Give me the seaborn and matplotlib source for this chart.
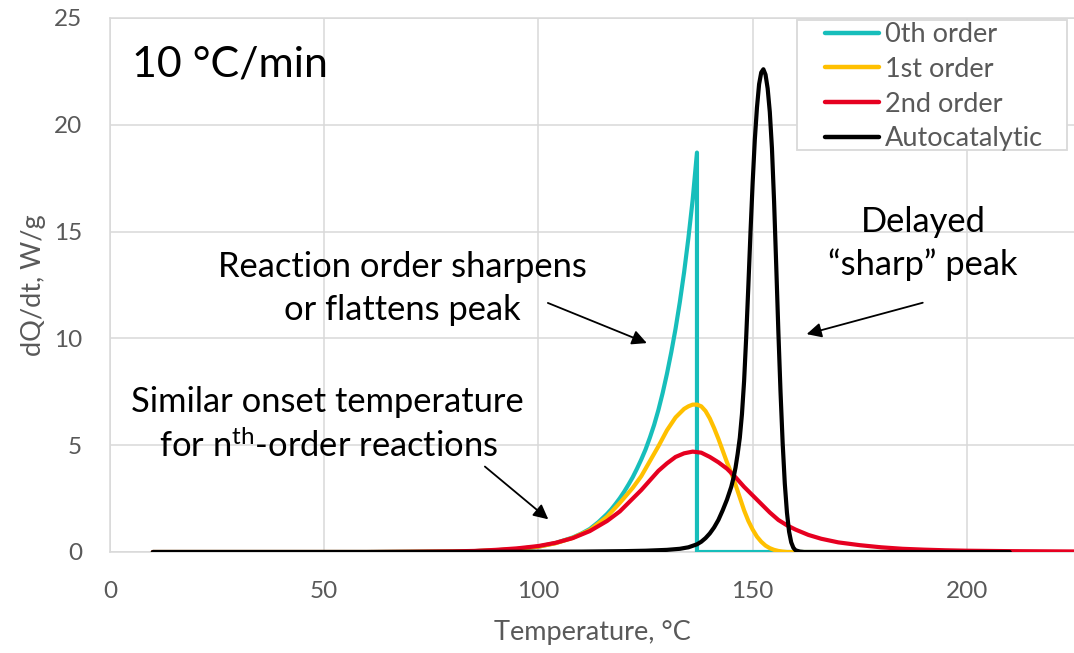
import numpy as np
import pandas as pd
import matplotlib
matplotlib.use("Agg")
import matplotlib.pyplot as plt
from matplotlib.patches import Rectangle
import seaborn as sns

# ---------------- data ----------------
series_names = ["0th order", "1st order", "2nd order", "Autocatalytic"]
series_colors = ["#17BEBB", "#FFC000", "#E60020", "#000000"]

temp_0th = [10, 40, 60, 70, 80, 85, 90, 95, 100, 104, 108, 110, 112, 114, 116,
            117, 118, 119, 120, 121, 122, 123, 124, 125, 126, 127, 128, 129,
            130, 131, 132, 133, 134, 135, 136, 137, 137, 160, 210]
dqdt_0th = [0.0, 0.0, 0.0, 0.01, 0.02, 0.04, 0.08, 0.14, 0.25, 0.42, 0.68, 0.86,
            1.08, 1.4, 1.78, 2.0, 2.25, 2.52, 2.82, 3.15, 3.5, 3.9, 4.33, 4.8,
            5.35, 5.95, 6.65, 7.45, 8.35, 9.35, 10.45, 11.7, 13.1, 14.7, 16.5,
            18.7, 0.0, 0.0, 0.0]

temp_1st = [10, 40, 60, 70, 80, 85, 90, 95, 100, 104, 108, 112, 116, 119, 122,
            124, 126, 128, 130, 132, 134, 135, 136, 137, 138, 139, 140, 141,
            142, 143, 144, 145, 146, 147, 148, 149, 150, 151, 152, 153, 154,
            155, 156, 157, 158, 210]
dqdt_1st = [0.0, 0.0, 0.0, 0.01, 0.02, 0.04, 0.08, 0.14, 0.25, 0.41, 0.66, 1.03,
            1.65, 2.3, 3.0, 3.55, 4.25, 4.95, 5.7, 6.3, 6.7, 6.82, 6.9, 6.9,
            6.82, 6.6, 6.25, 5.8, 5.3, 4.75, 4.2, 3.7, 3.15, 2.55, 1.95, 1.45,
            1.05, 0.72, 0.48, 0.3, 0.18, 0.1, 0.05, 0.02, 0.0, 0.0]

temp_2nd = [10, 40, 60, 70, 80, 85, 90, 95, 100, 104, 108, 112, 116, 119, 122,
            124, 126, 128, 130, 132, 134, 136, 138, 140, 142, 144, 146, 148,
            150, 152, 154, 156, 158, 160, 163, 166, 170, 175, 180, 185, 190,
            195, 200, 210, 220, 230]
dqdt_2nd = [0.0, 0.0, 0.0, 0.01, 0.03, 0.05, 0.1, 0.17, 0.28, 0.43, 0.65, 0.98,
            1.45, 1.9, 2.5, 2.9, 3.35, 3.8, 4.15, 4.45, 4.62, 4.7, 4.65, 4.45,
            4.2, 3.9, 3.5, 3.05, 2.65, 2.25, 1.85, 1.5, 1.25, 1.05, 0.8, 0.62,
            0.45, 0.32, 0.22, 0.15, 0.11, 0.08, 0.06, 0.04, 0.03, 0.02]

temp_auto = [10, 60, 90, 110, 120, 125, 130, 133, 135, 137, 138, 139, 140, 141,
             142, 143, 144, 145, 145.5, 146, 146.5, 147, 147.5, 148, 148.5, 149,
             149.5, 150, 150.5, 151, 151.5, 152, 152.5, 153, 153.5, 154, 154.5,
             155, 155.5, 156, 156.5, 157, 157.5, 158, 158.5, 159, 159.5, 160,
             161, 162, 210]
dqdt_auto = [0.0, 0.0, 0.01, 0.02, 0.04, 0.06, 0.1, 0.15, 0.22, 0.36, 0.48, 0.65,
             0.87, 1.15, 1.5, 1.95, 2.45, 3.05, 3.45, 3.95, 4.6, 5.35, 6.45,
             8.0, 10.1, 12.5, 15.0, 17.3, 19.3, 20.8, 21.9, 22.45, 22.6, 22.35,
             21.7, 20.6, 18.9, 16.4, 13.4, 10.3, 7.5, 5.1, 3.2, 1.85, 0.95,
             0.45, 0.2, 0.08, 0.02, 0.0, 0.0]

x_ticks = [0, 50, 100, 150, 200]
y_ticks = [0, 5, 10, 15, 20, 25]

# ---------------- figure ----------------
sns.set_theme(style="white")
plt.rcParams["font.family"] = ["Lato", "DejaVu Sans"]
plt.rcParams["mathtext.fontset"] = "custom"
plt.rcParams["mathtext.rm"] = "Lato"
plt.rcParams["mathtext.it"] = "Lato:italic"

frames = []
for name, t, q in zip(series_names,
                      [temp_0th, temp_1st, temp_2nd, temp_auto],
                      [dqdt_0th, dqdt_1st, dqdt_2nd, dqdt_auto]):
    frames.append(pd.DataFrame({"T": t, "Q": q, "series": name}))
df = pd.concat(frames, ignore_index=True)

fig = plt.figure(figsize=(10.74, 6.53), dpi=100)
ax = fig.add_axes([110 / 1074, (653 - 552) / 653, 964 / 1074, 534 / 653])

sns.lineplot(data=df, x="T", y="Q", hue="series", hue_order=series_names,
             palette=series_colors, estimator=None, sort=False,
             linewidth=3.0, ax=ax, legend=True, zorder=3)

ax.set_xlim(0, 225)
ax.set_ylim(0, 25)
ax.set_xticks(x_ticks)
ax.set_yticks(y_ticks)
ax.grid(True, color="#D9D9D9", linewidth=1.1)
ax.set_axisbelow(True)
for side in ["left", "top", "bottom"]:
    ax.spines[side].set_color("#D9D9D9")
    ax.spines[side].set_linewidth(1.1)
ax.spines["right"].set_visible(False)
ax.tick_params(axis="both", length=0, labelsize=17.5, labelcolor="#595959")
ax.tick_params(axis="x", pad=21)
ax.tick_params(axis="y", pad=20)

ax.set_xlabel("Temperature, °C", fontsize=19.5, color="#595959")
ax.set_ylabel("dQ/dt, W/g", fontsize=19.5, color="#595959")
ax.xaxis.set_label_coords(0.5, -0.128)
ax.yaxis.set_label_coords(-0.066, 0.5)

# legend
handles, labels = ax.get_legend_handles_labels()
for h in handles:
    h.set_linewidth(3.2)
leg = ax.legend(handles, labels, loc="upper left",
                bbox_to_anchor=((825 - 110) / 964, (552 - 22) / 534),
                frameon=False, fontsize=19.5, handlelength=2.0,
                handletextpad=0.22, labelspacing=0.36, borderpad=0,
                borderaxespad=0)
for t in leg.get_texts():
    t.set_color("#595959")
leg.set_zorder(6)
ax.add_patch(Rectangle(((797 - 110) / 964, (552 - 150) / 534),
                       270 / 964, 130 / 534, transform=ax.transAxes,
                       facecolor="white", edgecolor="#D9D9D9", linewidth=1.3,
                       zorder=5))

# annotations
ann_fs = 24.8
ax.text(5.1, 22.24, "10 °C/min", fontsize=31, color="black", ha="left",
        va="baseline", zorder=7)
ax.text(68.2, 12.87, "Reaction order sharpens", fontsize=ann_fs, ha="center",
        va="baseline", color="black", zorder=7)
ax.text(68.2, 10.86, "or flattens peak", fontsize=ann_fs, ha="center",
        va="baseline", color="black", zorder=7)
ax.text(50.8, 6.55, "Similar onset temperature", fontsize=ann_fs, ha="center",
        va="baseline", color="black", zorder=7)
ax.text(51.0, 4.45, r"for n$^{\mathrm{th}}$-order reactions", fontsize=ann_fs,
        ha="center", va="baseline", color="black", zorder=7)
ax.text(189.8, 14.98, "Delayed", fontsize=ann_fs, ha="center", va="baseline",
        color="black", zorder=7)
ax.text(189.8, 12.97, "\u201csharp\u201d peak", fontsize=ann_fs, ha="center",
        va="baseline", color="black", zorder=7)

arrow_kw = dict(arrowstyle="-|>", color="black", lw=1.3, mutation_scale=22,
                shrinkA=0, shrinkB=0)
ax.annotate("", xy=(125.3, 9.78), xytext=(102.2, 11.66), arrowprops=arrow_kw,
            zorder=7)
ax.annotate("", xy=(102.3, 1.53), xytext=(87.5, 4.0), arrowprops=arrow_kw,
            zorder=7)
ax.annotate("", xy=(162.6, 10.2), xytext=(189.7, 11.67), arrowprops=arrow_kw,
            zorder=7)

fig.savefig("out.png", dpi=100)
